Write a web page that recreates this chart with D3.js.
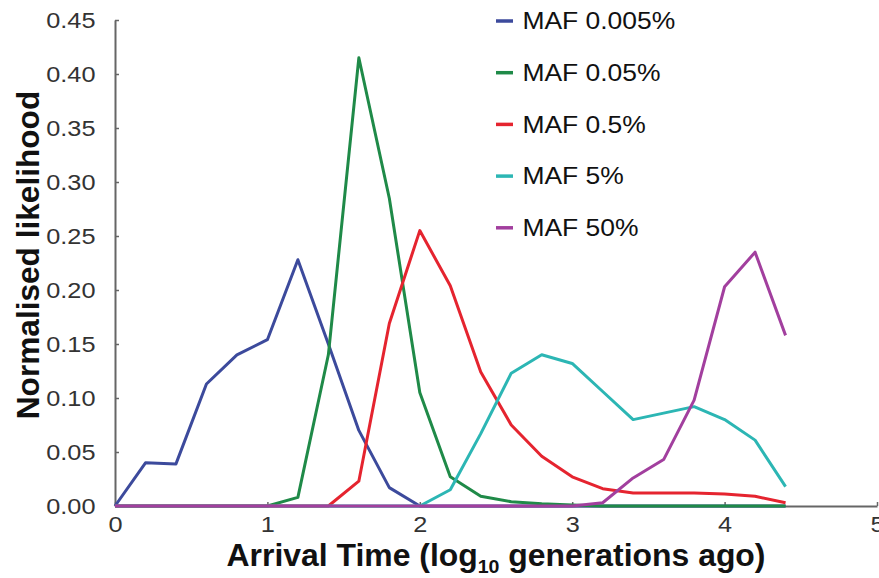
<!DOCTYPE html>
<meta charset="utf-8">
<head>
  <title>Arrival time likelihood</title>
</head>

<style>
body {
  margin: 0;
  background: #fff;
  font-family: "Liberation Sans", Arial, sans-serif;
}
.title {
  font-family: "Liberation Sans", Arial, sans-serif;
  font-weight: bold;
}
</style>

<body>
  <div id="content">
    <svg width="879" height="578"></svg>
  </div>

  <script src="https://cdnjs.cloudflare.com/ajax/libs/d3/7.8.5/d3.min.js"></script>

  <script>
// log10 generations ago, sampled every 0.2
var times = [0, 0.2, 0.4, 0.6, 0.8, 1.0, 1.2, 1.4, 1.6, 1.8, 2.0, 2.2,
             2.4, 2.6, 2.8, 3.0, 3.2, 3.4, 3.6, 3.8, 4.0, 4.2, 4.4];

var maf0005 = [0, 0.040, 0.039, 0.113, 0.140, 0.154, 0.228, 0.150, 0.070, 0.017, 0, 0,
               0, 0, 0, 0, 0, 0, 0, 0, 0, 0, 0];
var maf005  = [0, 0, 0, 0, 0, 0, 0.008, 0.140, 0.415, 0.285, 0.105, 0.027,
               0.009, 0.004, 0.002, 0.001, 0, 0, 0, 0, 0, 0, 0];
var maf05   = [0, 0, 0, 0, 0, 0, 0, 0, 0.023, 0.169, 0.255, 0.204,
               0.124, 0.075, 0.046, 0.027, 0.016, 0.012, 0.012, 0.012, 0.011, 0.009, 0.003];
var maf5    = [0, 0, 0, 0, 0, 0, 0, 0, 0, 0, 0, 0.015,
               0.067, 0.123, 0.140, 0.132, 0.106, 0.080, 0.086, 0.092, 0.080, 0.061, 0.018];
var maf50   = [0, 0, 0, 0, 0, 0, 0, 0, 0, 0, 0, 0,
               0, 0, 0, 0, 0.003, 0.026, 0.043, 0.098, 0.203, 0.235, 0.158];

var seriesNames = ['MAF 0.005%', 'MAF 0.05%', 'MAF 0.5%', 'MAF 5%', 'MAF 50%'];
var seriesValues = [maf0005, maf005, maf05, maf5, maf50];
var colours = ['#3c4a9c', '#1f8a48', '#e5242f', '#2cb6b4', '#a23f9e'];

var xTicks = [0, 1, 2, 3, 4, 5];
var yTicks = [0, 0.05, 0.10, 0.15, 0.20, 0.25, 0.30, 0.35, 0.40, 0.45];

var stretch = 'scale(1.15,1)';

var svg = d3.select('#content svg');

var x = d3.scaleLinear().domain([0, 5]).range([115, 877]);
var y = d3.scaleLinear().domain([0, 0.45]).range([506, 20]);

// axes
var yAxis = svg.append('g')
  .attr('transform', 'translate(115,0)')
  .call(d3.axisLeft(y).tickValues(yTicks).tickSizeInner(-4).tickSizeOuter(0)
    .tickPadding(17).tickFormat(d3.format('.2f')));

var xAxis = svg.append('g')
  .attr('transform', 'translate(0,506)')
  .call(d3.axisBottom(x).tickValues(xTicks).tickSizeInner(-4).tickSizeOuter(0)
    .tickPadding(10).tickFormat(d3.format('d')));

[yAxis, xAxis].forEach(function(ax) {
  ax.select('.domain').attr('stroke', '#666').attr('stroke-width', 2);
  ax.selectAll('.tick line').attr('stroke', '#666').attr('stroke-width', 1.5);
  ax.selectAll('.tick text')
    .attr('fill', '#333')
    .style('font-size', '22px')
    .style('font-family', '"Liberation Sans", Arial, sans-serif')
    .attr('transform', stretch);
});

// lines
var line = d3.line()
  .x(function(d, i) { return x(times[i]); })
  .y(function(d) { return y(d); });

svg.append('g')
  .selectAll('path')
  .data(seriesValues)
  .join('path')
  .attr('d', line)
  .attr('fill', 'none')
  .attr('stroke', function(d, i) { return colours[i]; })
  .attr('stroke-width', 3)
  .attr('stroke-linejoin', 'round');

// legend
var legend = svg.append('g')
  .selectAll('g')
  .data(seriesNames)
  .join('g')
  .attr('transform', function(d, i) { return 'translate(496,' + (21 + i * 51.7) + ')'; });

legend.append('line')
  .attr('x1', 0).attr('x2', 17)
  .attr('stroke', function(d, i) { return colours[i]; })
  .attr('stroke-width', 3.5);

legend.append('text')
  .attr('x', 23)
  .attr('dy', '0.36em')
  .attr('transform', stretch)
  .style('font-size', '23px')
  .attr('fill', '#111')
  .text(function(d) { return d; });

// axis titles
var xt = svg.append('text')
  .attr('class', 'title')
  .attr('text-anchor', 'middle')
  .attr('transform', 'translate(496,566) scale(1.03,1)')
  .style('font-size', '31px')
  .attr('fill', '#111');
xt.append('tspan').text('Arrival Time (log');
xt.append('tspan').attr('dy', 7).style('font-size', '19px').text('10');
xt.append('tspan').attr('dy', -7).text(' generations ago)');

svg.append('text')
  .attr('class', 'title')
  .attr('text-anchor', 'middle')
  .attr('transform', 'translate(39,255) rotate(-90) scale(1.02,1)')
  .style('font-size', '31px')
  .attr('fill', '#111')
  .text('Normalised likelihood');
  </script>
</body>
</html>
